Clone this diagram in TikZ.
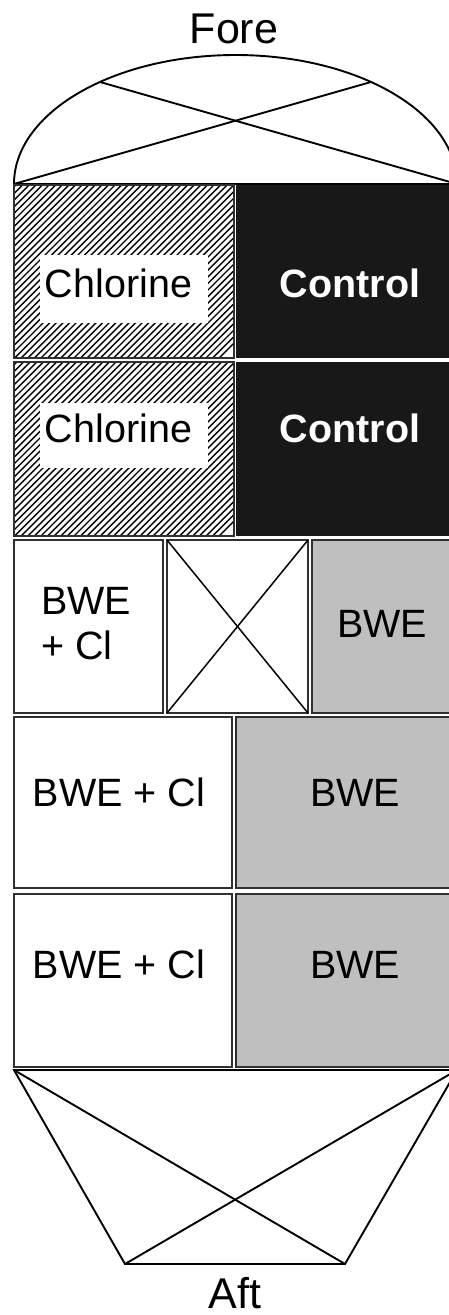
\documentclass[tikz,border=0pt]{standalone}
\usepackage{fontspec}
\setmainfont{Liberation Sans}
\definecolor{ctrl}{HTML}{181818}
\definecolor{bwe}{HTML}{BFBFBF}
\definecolor{edge}{HTML}{303030}
\begin{document}
\begin{tikzpicture}[x=1pt,y=-1pt]
\useasboundingbox (0,0) rectangle (449,1315);
\clip (0,0) rectangle (449,1315);
\tikzset{
  box/.style={draw=edge, line width=1.8pt},
  lab/.style={font=\fontsize{39.5}{45}\selectfont, inner sep=0pt, anchor=base},
  lablw/.style={font=\fontsize{39.5}{45}\selectfont, inner sep=0pt, anchor=base west},
  big/.style={font=\fontsize{43}{50}\selectfont, inner sep=0pt, anchor=base},
  xline/.style={line width=1.9pt, draw=black},
  hatch/.style={line width=1.4pt, draw=black},
}
% ---- Fore dome
\coordinate (dl) at (14,184);
\coordinate (dr) at (457,184);
\coordinate (dpl) at (100,82);
\coordinate (dpr) at (371,82);
\draw[xline] (dl) arc[start angle=180, end angle=360, x radius=221.5, y radius=129];
\draw[xline] (dl) -- (dr);
\draw[xline] (dl) -- (dpr);
\draw[xline] (dr) -- (dpl);
\node[big] (fore) at (234,43) {Fore};

% ---- Chlorine boxes (hatched)
\foreach \top/\bot/\wt/\wb/\tb/\nm in {185/358/255/323/297/1, 362/536/403/468/442/2}{
  \begin{scope}
    \clip (14,\top) rectangle (234,\bot);
    \foreach \k in {0,...,62}{
      \draw[hatch] ({-190+6.6*\k},\bot) -- ++(200,-200);
    }
  \end{scope}
  \fill[white] (40,\wt) rectangle (208,\wb);
  \draw[box] (14,\top) rectangle (234,\bot);
  \fill[ctrl] (236,\top) rectangle (457,\bot);
  \node[lab] (chl\nm) at (118.5,\tb) {Chlorine};
  \node[lab, text=white, font=\fontsize{39.5}{45}\selectfont\bfseries] (ctl\nm) at (350,\tb) {Control};
}

% ---- Row 3
\draw[box] (14,540) rectangle (163,713);
\coordinate (m1) at (167,540);
\coordinate (m2) at (308,540);
\coordinate (m3) at (308,713);
\coordinate (m4) at (167,713);
\draw[box] (m1) rectangle (m3);
\draw[xline, line width=1.5pt] (m1) -- (m3);
\draw[xline, line width=1.5pt] (m2) -- (m4);
\draw[box, fill=bwe] (312,540) rectangle (457,713);
\node[lablw] (bwecl3a) at (41,614) {BWE};
\node[lablw] (bwecl3b) at (41,659) {+ Cl};
\node[lab] (bwe3) at (382,637) {BWE};

% ---- Rows 4 and 5
\foreach \top/\bot/\tb/\nm in {717/888/806/4, 894/1067/978/5}{
  \draw[box] (14,\top) rectangle (232,\bot);
  \draw[box, fill=bwe] (236,\top) rectangle (457,\bot);
  \node[lab] (bwecl\nm) at (119,\tb) {BWE + Cl};
  \node[lab] (bwe\nm) at (355,\tb) {BWE};
}

% ---- Aft trapezoid
\coordinate (al) at (14,1070);
\coordinate (ar) at (457,1070);
\coordinate (bl) at (125,1264);
\coordinate (br) at (345,1264);
\draw[xline] (al) -- (ar) -- (br) -- (bl) -- cycle;
\draw[xline] (al) -- (br);
\draw[xline] (ar) -- (bl);
\node[big] (aft) at (235,1308) {Aft};
\end{tikzpicture}
\end{document}
